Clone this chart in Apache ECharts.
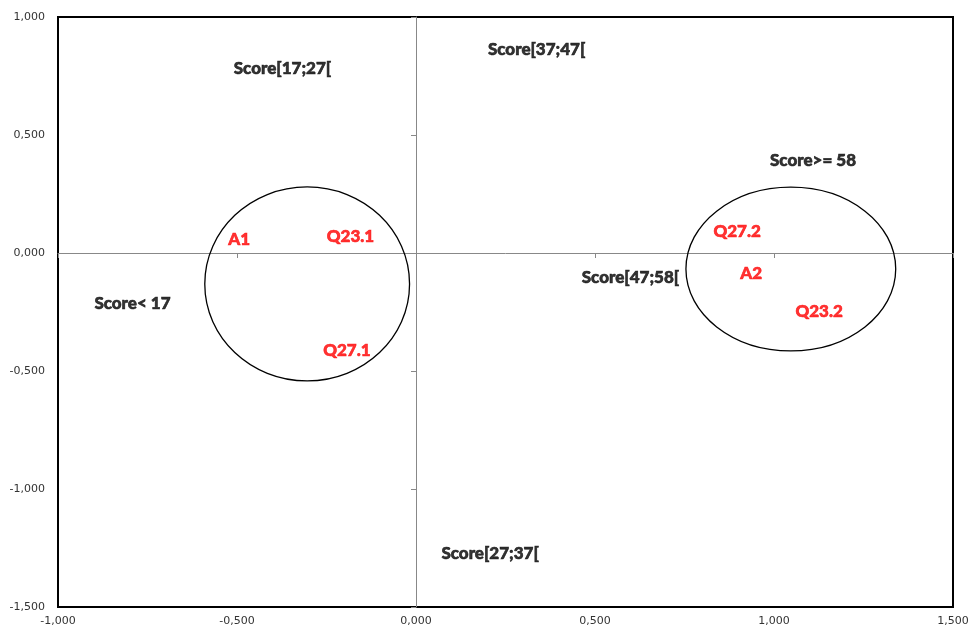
<!DOCTYPE html>
<html>
<head>
<meta charset="utf-8">
<script src="https://cdn.jsdelivr.net/npm/echarts@6/dist/echarts.min.js"></script>
<style>html,body{margin:0;padding:0;background:#fff}#c{width:972px;height:635px}</style>
</head>
<body>
<div id="c"></div>
<script>
// Category (score class) points
const scoreNames = ['Score[17;27[', 'Score[37;47[', 'Score>= 58', 'Score< 17', 'Score[47;58[', 'Score[27;37['];
const scoreX = [-0.373, 0.337, 1.109, -0.792, 0.599, 0.207];
const scoreY = [0.782, 0.864, 0.394, -0.212, -0.102, -1.275];
// Variable modality points
const modNames = ['A1', 'Q23.1', 'Q27.1', 'Q27.2', 'A2', 'Q23.2'];
const modX = [-0.494, -0.183, -0.193, 0.897, 0.936, 1.126];
const modY = [0.056, 0.068, -0.413, 0.091, -0.089, -0.248];
// Ellipses (centre and radii in data units)
const ellCx = [-0.304, 1.047];
const ellCy = [-0.131, -0.068];
const ellRx = [0.286, 0.293];
const ellRy = [0.411, 0.347];
// Axis ranges
const xMin = -1, xMax = 1.5, yMin = -1.5, yMax = 1, step = 0.5;

const tickFmt = v => { const s = Math.abs(v).toFixed(3).replace('.', ','); return (v < -1e-9 ? '-' : '') + s; };

const chart = echarts.init(document.getElementById('c'));
const labelFont = { fontFamily: 'Lato', fontWeight: 900, fontSize: 17, textBorderWidth: 0.6 };
chart.setOption({
  animation: false,
  grid: { left: 58, right: 19, top: 17, bottom: 28, show: true, borderColor: '#000', borderWidth: 2, backgroundColor: 'transparent' },
  xAxis: [
    { type: 'value', min: xMin, max: xMax, interval: step, position: 'bottom',
      axisLine: { show: false, onZero: false }, axisTick: { show: false }, splitLine: { show: false },
      axisLabel: { formatter: tickFmt, color: '#333', fontFamily: 'DejaVu Sans', fontSize: 11, margin: 9 } },
    { type: 'value', min: xMin, max: xMax, interval: step, position: 'bottom',
      axisLine: { show: true, onZero: true, lineStyle: { color: '#888', width: 1 } },
      axisTick: { show: true, length: 5, lineStyle: { color: '#888' } }, splitLine: { show: false },
      axisLabel: { show: false } }
  ],
  yAxis: [
    { type: 'value', min: yMin, max: yMax, interval: step, position: 'left',
      axisLine: { show: false, onZero: false }, axisTick: { show: false }, splitLine: { show: false },
      axisLabel: { formatter: tickFmt, color: '#333', fontFamily: 'DejaVu Sans', fontSize: 11, margin: 13 } },
    { type: 'value', min: yMin, max: yMax, interval: step, position: 'left',
      axisLine: { show: true, onZero: true, lineStyle: { color: '#888', width: 1 } },
      axisTick: { show: true, length: 5, lineStyle: { color: '#888' } }, splitLine: { show: false },
      axisLabel: { show: false } }
  ],
  series: [
    { type: 'custom', xAxisIndex: 0, yAxisIndex: 0, silent: true,
      data: ellCx.map((c, i) => [c, ellCy[i], ellRx[i], ellRy[i]]),
      renderItem: (params, api) => {
        const c = api.coord([api.value(0), api.value(1)]);
        const s = api.size([api.value(2), api.value(3)]);
        return { type: 'ellipse', shape: { cx: c[0], cy: c[1], rx: s[0], ry: s[1] },
          style: { fill: 'none', stroke: '#000', lineWidth: 1.3 } };
      } },
    { type: 'scatter', symbolSize: 0, silent: true,
      data: scoreNames.map((n, i) => ({ name: n, value: [scoreX[i], scoreY[i]] })),
      label: { show: true, position: 'inside', formatter: '{b}', color: '#000', textBorderColor: '#000', ...labelFont } },
    { type: 'scatter', symbolSize: 0, silent: true,
      data: modNames.map((n, i) => ({ name: n, value: [modX[i], modY[i]] })),
      label: { show: true, position: 'inside', formatter: '{b}', color: '#ff0000', textBorderColor: '#ff0000', ...labelFont } }
  ]
});
</script>
</body>
</html>
